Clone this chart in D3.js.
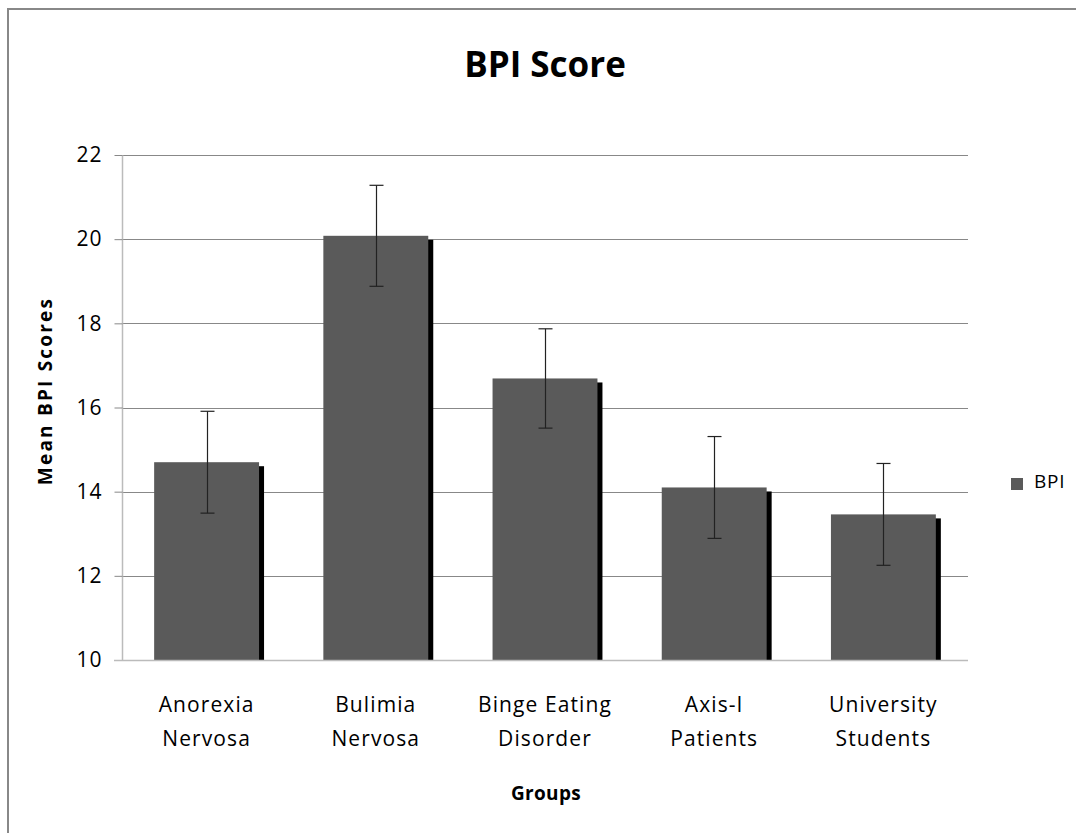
<!DOCTYPE html>
<html><head><meta charset="utf-8">
<script src="https://cdn.jsdelivr.net/npm/d3@7"></script>
<style>body{margin:0;background:#fff}svg{display:block}text{font-family:"Open Sans",sans-serif}</style>
</head><body>
<svg id="c" width="1076" height="833"></svg>
<script>
const categories = [["Anorexia","Nervosa"],["Bulimia","Nervosa"],["Binge Eating","Disorder"],["Axis-I","Patients"],["University","Students"]];
const values = [14.70, 20.08, 16.69, 14.10, 13.46];
const errors = [1.21, 1.20, 1.18, 1.21, 1.21];
const yTicks = [10, 12, 14, 16, 18, 20, 22];
const seriesName = "BPI";

const svg = d3.select("#c");
const m = {l:122, r:968, t:155, b:660};
const x = d3.scaleBand().domain(d3.range(categories.length)).range([m.l, m.r]).paddingInner(0.38).paddingOuter(0.19);
const y = d3.scaleLinear().domain([10, 22]).range([m.b, m.t]);

// outer border
svg.append("path").attr("d","M8,833 L8,9 L1076,9").attr("fill","none").attr("stroke","#888").attr("stroke-width",2);

// gridlines
svg.append("g").selectAll("line").data(yTicks.slice(1)).join("line")
  .attr("x1", m.l).attr("x2", m.r).attr("y1", d=>Math.round(y(d))+0.5).attr("y2", d=>Math.round(y(d))+0.5)
  .attr("stroke","#888").attr("stroke-width",1);

// y axis
const ya = svg.append("g").attr("transform",`translate(${m.l+0.5},0)`)
  .call(d3.axisLeft(y).tickValues(yTicks).tickSize(8).tickPadding(12).tickFormat(d3.format("d")));
ya.select(".domain").attr("stroke","#bbb").attr("stroke-width",1.5).attr("d",`M0,${m.t}V${m.b}`);
ya.selectAll(".tick line").attr("stroke","#888");
ya.selectAll(".tick text").attr("font-size",21).attr("letter-spacing",1).attr("fill","#000").attr("font-family","'Open Sans',sans-serif");

// shadows
const g = svg.append("g");
g.selectAll("rect.sh").data(values).join("rect").attr("class","sh")
  .attr("x",(d,i)=>x(i)+5).attr("y",d=>y(d)+4).attr("width",x.bandwidth()).attr("height",d=>m.b-y(d)-4)
  .attr("fill","#000");
g.selectAll("rect.bar").data(values).join("rect").attr("class","bar")
  .attr("x",(d,i)=>x(i)).attr("y",d=>y(d)).attr("width",x.bandwidth()).attr("height",d=>m.b-y(d))
  .attr("fill","#5a5a5a");

// baseline
svg.append("line").attr("x1",m.l-8).attr("x2",m.r).attr("y1",m.b+0.5).attr("y2",m.b+0.5).attr("stroke","#bbb").attr("stroke-width",1.5);

// error bars
const eb = svg.append("g").attr("stroke","#222").attr("stroke-width",1.2);
values.forEach((v,i)=>{
  const cx = Math.round(x(i)+x.bandwidth()/2)+0.5;
  const t = y(v+errors[i]), b = y(v-errors[i]);
  eb.append("line").attr("x1",cx).attr("x2",cx).attr("y1",t).attr("y2",b);
  eb.append("line").attr("x1",cx-7).attr("x2",cx+7).attr("y1",t).attr("y2",t);
  eb.append("line").attr("x1",cx-7).attr("x2",cx+7).attr("y1",b).attr("y2",b);
});

// category labels
const cl = svg.append("g");
categories.forEach((c,i)=>{
  const cx = x(i)+x.bandwidth()/2;
  const t = cl.append("text").attr("text-anchor","middle").attr("font-size",21).attr("letter-spacing",1.1).attr("fill","#000");
  t.append("tspan").attr("x",cx).attr("y",712).text(c[0]);
  t.append("tspan").attr("x",cx).attr("y",746).text(c[1]);
});

// titles
svg.append("text").attr("x",545).attr("y",77).attr("text-anchor","middle").attr("font-size",35).attr("font-weight","bold").text("BPI Score");
svg.append("text").attr("x",546).attr("y",800).attr("text-anchor","middle").attr("font-size",19).attr("letter-spacing",0.3).attr("font-weight","bold").text("Groups");
svg.append("text").attr("transform","translate(52,391) rotate(-90)").attr("text-anchor","middle").attr("font-size",19).attr("letter-spacing",2.2).attr("font-weight","bold").text("Mean BPI Scores");

// legend
svg.append("rect").attr("x",1011).attr("y",478).attr("width",12).attr("height",12).attr("fill","#5a5a5a");
svg.append("text").attr("x",1034).attr("y",488).attr("font-size",19).attr("letter-spacing",0.8).text(seriesName);
</script>
</body></html>
